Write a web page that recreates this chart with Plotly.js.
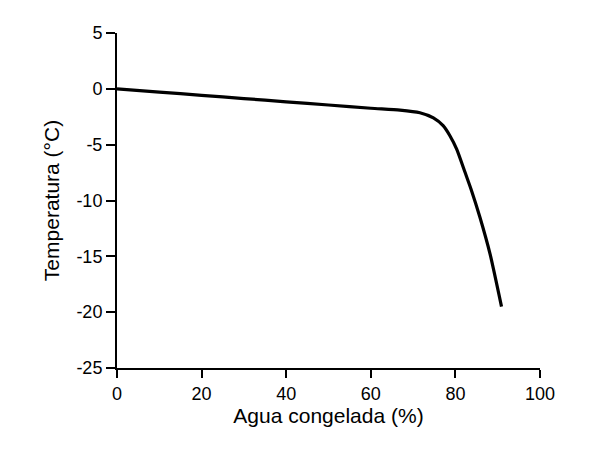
<!DOCTYPE html>
<html>
<head>
<meta charset="utf-8">
<script src="https://cdn.plot.ly/plotly-3.0.1.min.js"></script>
<style>body{margin:0;background:#fff;} #chart{width:600px;height:451px;}</style>
</head>
<body>
<div id="chart"></div>
<script>
// Data
const aguaCongelada = [0, 10, 20, 30, 40, 50, 60, 66.9, 71.6, 74.8, 77.1, 78.7, 80.3, 82.3, 83.8, 85.8, 88.2, 90.9];
const temperatura  = [0, -0.29, -0.58, -0.87, -1.16, -1.45, -1.74, -1.9, -2.14, -2.6, -3.3, -4.2, -5.4, -7.5, -9.1, -11.5, -14.8, -19.5];
const xTicks = [0, 20, 40, 60, 80, 100];
const yTicks = [5, 0, -5, -10, -15, -20, -25];
const yTickText = ['5', '0', '-5', '-10', '-15', '-20', '-25'];

const font = {family: 'Liberation Sans, Arial, sans-serif', color: '#000'};

Plotly.newPlot('chart', [{
  x: aguaCongelada,
  y: temperatura,
  mode: 'lines',
  line: {color: '#000', width: 3.2, shape: 'spline', smoothing: 0.6},
  hoverinfo: 'skip'
}], {
  width: 600, height: 451,
  margin: {l: 117, r: 60, t: 33, b: 83},
  paper_bgcolor: '#fff', plot_bgcolor: '#fff',
  showlegend: false,
  font: Object.assign({size: 18}, font),
  xaxis: {
    range: [0, 100], tickvals: xTicks, ticktext: xTicks.map(String),
    showgrid: false, zeroline: false, showline: true, linecolor: '#000', linewidth: 2,
    ticks: 'outside', ticklen: 8, tickwidth: 2, tickcolor: '#000',
    tickfont: Object.assign({size: 18}, font),
    title: {text: 'Agua congelada (%)', font: Object.assign({size: 21}, font), standoff: 4}
  },
  yaxis: {
    range: [-25, 5], tickvals: yTicks, ticktext: yTickText,
    showgrid: false, zeroline: false, showline: true, linecolor: '#000', linewidth: 2,
    ticks: 'outside', ticklen: 9, tickwidth: 2, tickcolor: '#000',
    tickfont: Object.assign({size: 18}, font),
    title: {text: 'Temperatura (°C)', font: Object.assign({size: 21}, font), standoff: 11}
  }
}, {displayModeBar: false, staticPlot: true});
</script>
</body>
</html>
